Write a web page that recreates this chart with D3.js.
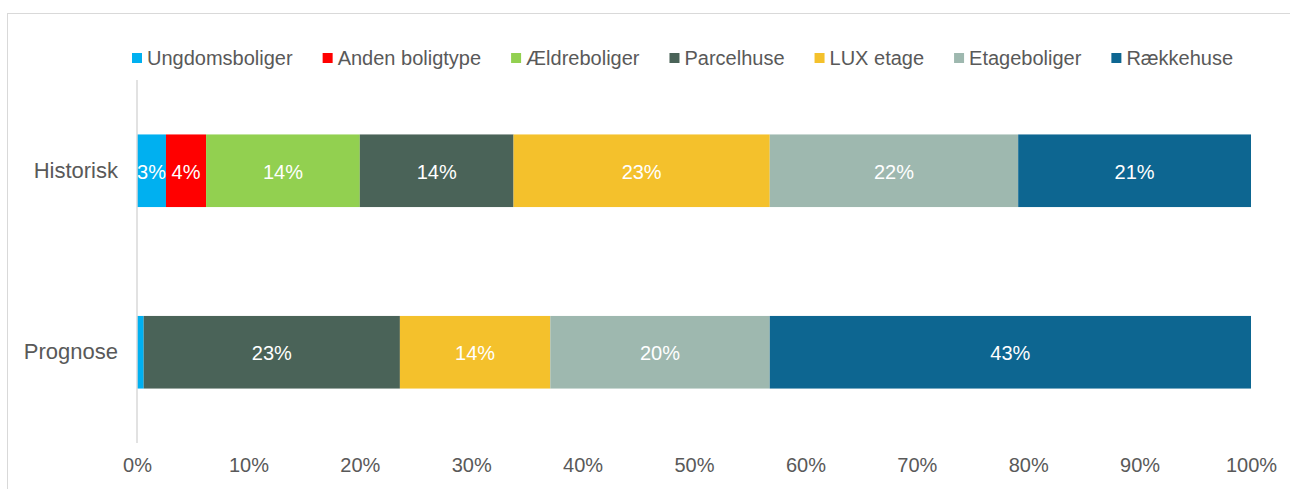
<!DOCTYPE html>
<html>
<head>
<meta charset="utf-8">
<script src="https://cdn.jsdelivr.net/npm/d3@7"></script>
<style>
  body { margin: 0; background: #fff; }
  svg { font-family: "Liberation Sans", Arial, sans-serif; }
</style>
</head>
<body>
<div id="frame1"></div>
<script>
// stacked 100% bar chart

const categories = ["Historisk", "Prognose"];
const seriesNames = ["Ungdomsboliger", "Anden boligtype", "Ældreboliger", "Parcelhuse", "LUX etage", "Etageboliger", "Rækkehuse"];
const seriesColors = ["#00B0F0", "#FF0000", "#92D050", "#4A6358", "#F4C12C", "#9EB8AF", "#0D6691"];
const historisk = [2.6, 3.6, 13.8, 13.8, 23.0, 22.3, 20.9];
const prognose = [0.6, 0, 0, 23.0, 13.5, 19.7, 43.2];
const tickValues = [0, 10, 20, 30, 40, 50, 60, 70, 80, 90, 100];

const FRAME_WIDTH = 1290;
const FRAME_HEIGHT = 489;
const MARGINS = {left: 137, right: 39, top: 80, bottom: 46};

const FRAME1 = d3.select("#frame1")
    .append("svg")
        .attr("width", FRAME_WIDTH)
        .attr("height", FRAME_HEIGHT);

// outer border of chart area
FRAME1.append("rect")
    .attr("x", 7.5).attr("y", 13.5)
    .attr("width", 1400).attr("height", 600)
    .attr("fill", "none")
    .attr("stroke", "#d9d9d9");

const X_SCALE = d3.scaleLinear()
    .domain([0, 100])
    .range([MARGINS.left, FRAME_WIDTH - MARGINS.right]);

const Y_SCALE = d3.scaleBand()
    .domain(categories)
    .range([MARGINS.top, FRAME_HEIGHT - MARGINS.bottom])
    .paddingInner(0.6)
    .paddingOuter(0.3);

const rows = categories.map((c, i) => {
    const vals = i === 0 ? historisk : prognose;
    const row = {category: c};
    seriesNames.forEach((s, j) => { row[s] = vals[j]; });
    return row;
});

const stacked = d3.stack().keys(seriesNames)(rows);

const groups = FRAME1.selectAll(".series")
    .data(stacked)
    .enter()
    .append("g")
        .attr("class", "series")
        .attr("fill", (d, i) => seriesColors[i]);

groups.selectAll("rect")
    .data(d => d)
    .enter()
    .append("rect")
        .attr("x", d => X_SCALE(d[0]))
        .attr("y", d => Y_SCALE(d.data.category))
        .attr("width", d => X_SCALE(d[1]) - X_SCALE(d[0]))
        .attr("height", Y_SCALE.bandwidth());

groups.selectAll("text")
    .data(d => d.filter(p => p[1] - p[0] >= 2))
    .enter()
    .append("text")
        .attr("x", d => (X_SCALE(d[0]) + X_SCALE(d[1])) / 2)
        .attr("y", d => Y_SCALE(d.data.category) + Y_SCALE.bandwidth() / 2 + 1)
        .attr("dy", "0.35em")
        .attr("text-anchor", "middle")
        .attr("fill", "#fff")
        .attr("font-size", "20px")
        .text(d => Math.round(d[1] - d[0]) + "%");

// vertical axis line
FRAME1.append("line")
    .attr("x1", X_SCALE(0)).attr("x2", X_SCALE(0))
    .attr("y1", MARGINS.top).attr("y2", FRAME_HEIGHT - MARGINS.bottom)
    .attr("stroke", "#d9d9d9")
    .attr("stroke-width", 1.5);

// category labels
FRAME1.append("g")
    .attr("transform", "translate(" + (X_SCALE(0) - 19) + ",0)")
    .call(d3.axisLeft(Y_SCALE).tickSize(0).tickPadding(0))
    .call(g => g.select(".domain").remove())
    .selectAll("text")
        .attr("font-size", "22px")
        .attr("font-family", "Liberation Sans, Arial, sans-serif")
        .attr("fill", "#595959");

// x ticks
FRAME1.append("g")
    .attr("transform", "translate(0," + (FRAME_HEIGHT - MARGINS.bottom) + ")")
    .call(d3.axisBottom(X_SCALE).tickValues(tickValues).tickSize(0).tickPadding(15).tickFormat(d => d + "%"))
    .call(g => g.select(".domain").remove())
    .selectAll("text")
        .attr("font-size", "20px")
        .attr("font-family", "Liberation Sans, Arial, sans-serif")
        .attr("fill", "#595959");

// legend
const legend = FRAME1.append("g").attr("transform", "translate(132,58)");
let lx = 0;
seriesNames.forEach((s, i) => {
    const item = legend.append("g").attr("transform", "translate(" + lx + ",0)");
    item.append("rect")
        .attr("x", 0).attr("y", -5)
        .attr("width", 10).attr("height", 10)
        .attr("fill", seriesColors[i]);
    const t = item.append("text")
        .attr("x", 15).attr("dy", "0.35em")
        .attr("font-size", "20px")
        .attr("fill", "#595959")
        .text(s);
    lx += 15 + t.node().getComputedTextLength() + 30;
});
</script>
</body>
</html>
